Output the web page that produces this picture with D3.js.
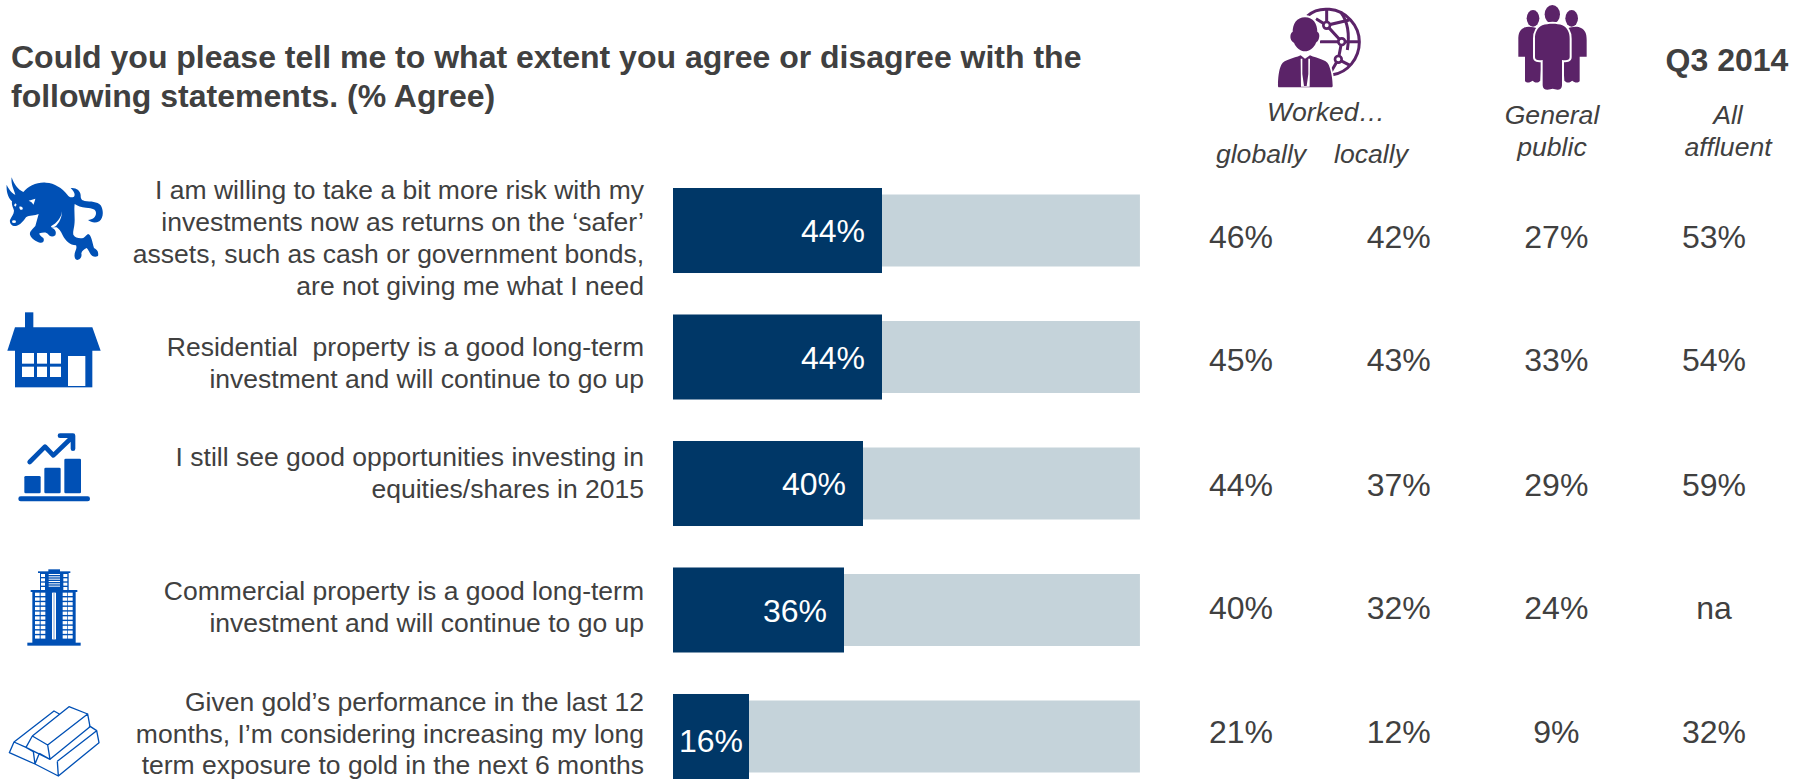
<!DOCTYPE html>
<html>
<head>
<meta charset="utf-8">
<style>
html, body { margin: 0; padding: 0; background: #fff; overflow: hidden; }
svg { display: block; }
text { font-family: "Liberation Sans", Arial, sans-serif; }
.halo { paint-order: stroke; }
</style>
<script src="https://cdnjs.cloudflare.com/ajax/libs/d3/7.8.5/d3.min.js"></script>
</head>
<body>
<svg id="chart" width="1808" height="779"></svg>
<script>
// ---- Survey content ----
const titleLines = [
  "Could you please tell me to what extent you agree or disagree with the",
  "following statements. (% Agree)"
];
const statements = [
  ["I am willing to take a bit more risk with my", "investments now as returns on the ‘safer’", "assets, such as cash or government bonds,", "are not giving me what I need"],
  ["Residential  property is a good long-term", "investment and will continue to go up"],
  ["I still see good opportunities investing in", "equities/shares in 2015"],
  ["Commercial property is a good long-term", "investment and will continue to go up"],
  ["Given gold’s performance in the last 12", "months, I’m considering increasing my long", "term exposure to gold in the next 6 months"]
];
const agreeValues = [44, 44, 40, 36, 16];
const trackValue = 98.3;
const workedGlobally = [46, 45, 44, 40, 21];
const workedLocally = [42, 43, 37, 32, 12];
const generalPublic = [27, 33, 29, 24, 9];
const allAffluent = [53, 54, 59, null, 32];
const columnKeys = ["globally", "locally", "public", "affluent"];
const columnValues = [workedGlobally, workedLocally, generalPublic, allAffluent];

// ---- Layout ----
const statementFirstBaseline = [198.5, 355.5, 465.5, 600, 711];
const statementLeading = [32, 32, 32, 32, 31.5];
const tableRowCentre = [237, 360, 485, 608, 732];
const barLabelShift = [0, 1, 0, 1, 5];

const INK = "#404040", NAVY = "#003767", TRACK = "#C5D3DA", BLUE = "#0050B5", PURPLE = "#5B2368";

const svg = d3.select("#chart");
const rows = d3.range(statements.length);

const x = d3.scaleLinear().domain([0, 100]).range([673, 1148]);
const y = d3.scaleBand().domain(rows).range([188, 779]).paddingInner(0.328).paddingOuter(0);
const col = d3.scalePoint().domain(columnKeys).range([1241, 1714]);
const TRACK_H = 72;

// Title
svg.append("g").selectAll("text").data(titleLines).join("text")
  .attr("x", 11).attr("y", (d, i) => 68 + i * 39)
  .attr("font-size", 32).attr("font-weight", "bold").attr("fill", INK)
  .text(d => d);

// Statement labels, right aligned beside the bars
const stmt = svg.append("g").selectAll("text").data(statements).join("text")
  .attr("text-anchor", "end").attr("font-size", 26.5).attr("fill", INK)
  .attr("xml:space", "preserve").style("white-space", "pre");
stmt.selectAll("tspan").data((d, i) => d.map((t, j) => ({ t, y: statementFirstBaseline[i] + j * statementLeading[i] })))
  .join("tspan").attr("x", 644).attr("y", d => d.y).text(d => d.t);

// Pale tracks behind the bars
svg.append("g").selectAll("rect").data(rows).join("rect")
  .attr("x", x(0)).attr("width", x(trackValue) - x(0))
  .attr("y", i => y(i) + (y.bandwidth() - TRACK_H) / 2).attr("height", TRACK_H)
  .attr("fill", TRACK);

// Agree bars
svg.append("g").selectAll("rect").data(agreeValues).join("rect")
  .attr("x", x(0)).attr("y", (d, i) => y(i))
  .attr("width", d => x(d) - x(0)).attr("height", y.bandwidth())
  .attr("fill", NAVY);

// Bar value labels; short bars keep the text inside their left edge
svg.append("g").selectAll("text").data(agreeValues).join("text")
  .attr("text-anchor", "end")
  .attr("x", d => Math.max(x(d) - 17, x(0) + 70))
  .attr("y", (d, i) => y(i) + y.bandwidth() / 2 + barLabelShift[i] + 11)
  .attr("font-size", 32).attr("fill", "#fff")
  .text(d => d + "%");

// Comparison columns
columnKeys.forEach((key, c) => {
  svg.append("g").selectAll("text").data(columnValues[c]).join("text")
    .attr("text-anchor", "middle")
    .attr("x", col(key))
    .attr("y", (d, i) => tableRowCentre[i] + 11)
    .attr("font-size", 32).attr("fill", INK)
    .text(d => d == null ? "na" : d + "%");
});

// Column headings
const headings = [
  ["Worked…", 1326, 121, 26.6],
  ["globally", 1261, 163, 26.6],
  ["locally", 1371, 163, 26.6],
  ["General", 1552, 124, 26.6],
  ["public", 1552, 156, 26.6],
  ["All", 1728, 124, 26.6],
  ["affluent", 1728, 156, 26.6]
];
svg.append("g").selectAll("text").data(headings).join("text")
  .attr("text-anchor", "middle").attr("font-style", "italic").attr("fill", INK)
  .attr("x", d => d[1]).attr("y", d => d[2]).attr("font-size", d => d[3])
  .text(d => d[0]);
svg.append("text").attr("x", 1727).attr("y", 71).attr("text-anchor", "middle")
  .attr("font-size", 32).attr("font-weight", "bold").attr("fill", INK).text("Q3 2014");

// ---- Pictograms, each authored at 3 units per screen pixel ----
function icon(tx, ty, colour) {
  return svg.append("g").attr("transform", `translate(${tx},${ty}) scale(${1 / 3})`).attr("fill", colour);
}

// Bull
const bull = icon(0, 170, BLUE);
bull.append("path").attr("d", "M35 22 C42 42 52 58 70 66 C78 58 84 52 96 46 C110 39 124 37 138 38 C164 39 186 54 202 74 C208 82 214 84 222 80 C226 74 224 66 212 54 C228 52 242 62 242 76 C242 86 244 91 254 93 C272 95 292 94 302 106 C312 122 310 146 298 154 C286 160 274 158 264 150 C278 149 288 142 288 129 C288 117 278 115 258 113 C244 112 232 108 224 102 C222 116 224 132 224 150 C224 172 218 184 220 194 C226 204 238 206 250 204 C256 200 258 196 264 192 C274 194 276 214 282 234 C290 238 297 244 294 258 C284 264 274 258 270 250 C266 242 264 238 260 234 C252 238 246 242 244 250 C246 258 244 268 232 270 C222 268 222 254 226 244 C230 234 230 230 228 226 C210 226 196 212 188 196 C182 182 176 176 170 172 C162 172 158 172 154 173 C166 176 170 186 166 196 C158 202 148 200 144 192 C140 186 130 186 118 190 C118 196 124 200 130 204 C134 212 130 220 120 218 C108 214 94 206 90 194 C88 184 98 178 106 168 C110 156 112 144 116 132 C104 138 88 134 78 142 C70 154 60 166 48 168 C36 170 28 160 30 150 C34 140 42 132 42 122 C40 112 34 106 36 94 C26 86 18 68 20 44 C26 58 36 70 46 74 C42 58 32 44 35 22 Z");
bull.append("path").attr("fill", "#fff").attr("d", "M186 124 C184 144 170 160 154 168 C150 172 160 174 168 168 C178 158 186 142 186 124 Z");
bull.append("path").attr("fill", "#fff").attr("d", "M86 92 L106 86 C104 94 102 100 100 104 C98 98 92 94 86 92 Z");
bull.append("path").attr("fill", "#fff").attr("d", "M58 110 C64 108 70 112 68 118 C62 122 58 118 58 110 Z");
bull.append("path").attr("fill", "#fff").attr("d", "M42 106 L46 100 L50 104 L46 110 Z");
bull.append("ellipse").attr("cx", 42).attr("cy", 155).attr("rx", 6).attr("ry", 4).attr("fill", "#fff");

// House
const house = icon(0, 160, BLUE);
house.append("rect").attr("x", 75).attr("y", 457).attr("width", 25).attr("height", 48);
house.append("path").attr("d", "M45 502 H277 L302 572 H22 Z");
house.append("rect").attr("x", 45).attr("y", 570).attr("width", 232).attr("height", 112);
[[66, 36], [111, 30], [150, 33]].forEach(([wx, ww]) => {
  [[579, 32], [620, 31]].forEach(([wy, wh]) => {
    house.append("rect").attr("x", wx).attr("y", wy).attr("width", ww).attr("height", wh).attr("fill", "#fff");
  });
});
house.append("rect").attr("x", 204).attr("y", 588).attr("width", 52).attr("height", 90).attr("fill", "#fff");

// Rising chart
const growth = icon(0, 420, BLUE);
growth.append("rect").attr("x", 73).attr("y", 168).attr("width", 49).attr("height", 52).attr("rx", 4);
growth.append("rect").attr("x", 133).attr("y", 143).attr("width", 49).attr("height", 77).attr("rx", 4);
growth.append("rect").attr("x", 193).attr("y", 116).attr("width", 50).attr("height", 104).attr("rx", 4);
growth.append("rect").attr("x", 55).attr("y", 229).attr("width", 215).attr("height", 15).attr("rx", 7);
growth.append("path").attr("fill", "none").attr("stroke", BLUE).attr("stroke-width", 14)
  .attr("stroke-linecap", "round").attr("stroke-linejoin", "round")
  .attr("d", "M89 126 L135 80 L160 106 L214 54 M180 47 H219 V86");

// Tower
const tower = icon(0, 420, BLUE);
tower.append("rect").attr("x", 145).attr("y", 448).attr("width", 35).attr("height", 12);
tower.append("rect").attr("x", 114).attr("y", 454).attr("width", 97).attr("height", 5);
tower.append("rect").attr("x", 120).attr("y", 456).attr("width", 86).attr("height", 58);
tower.append("rect").attr("x", 92).attr("y", 510).attr("width", 140).attr("height", 6);
tower.append("rect").attr("x", 97).attr("y", 512).attr("width", 130).attr("height", 158);
tower.append("rect").attr("x", 82).attr("y", 668).attr("width", 160).attr("height", 9);
[105, 122, 188, 204].forEach(wx => {
  d3.range(518, 656, 14.2).forEach(wy => {
    tower.append("rect").attr("x", wx).attr("y", wy).attr("width", 14).attr("height", 10).attr("fill", "#fff");
  });
});
[123, 190].forEach(wx => {
  d3.range(462, 505, 13).forEach(wy => {
    tower.append("rect").attr("x", wx).attr("y", wy).attr("width", 12).attr("height", 9).attr("fill", "#fff");
  });
});
d3.range(462, 504, 7).forEach(wy => {
  tower.append("rect").attr("x", 146).attr("y", wy).attr("width", 34).attr("height", 3).attr("fill", "#fff");
});
tower.append("rect").attr("x", 156).attr("y", 518).attr("width", 12).attr("height", 140).attr("fill", "#fff");
tower.append("rect").attr("x", 160).attr("y", 518).attr("width", 4).attr("height", 140).attr("fill", "#9db8e0");

// Gold bars
const gold = icon(0, 420, "none");
gold.append("path").attr("stroke", BLUE).attr("stroke-width", 4).attr("stroke-linejoin", "round")
  .attr("d", "M78 982 L97 948 L143 975 L150 1018 Z M143 975 L263 882 L270 920 L150 1018 M97 948 L207 860 L263 882 M178 882 L162 873 L42 966 L28 998 L105 1032 L100 995 L78 982 M42 966 L78 982 M105 1032 L118 1000 M105 1032 L175 1068 L297 968 L290 932 L267 917 M172 1024 L175 1068 M172 1024 L290 932 M118 1000 L150 1018");

// Executive in front of a globe
const worker = icon(1270, 0, PURPLE);
worker.append("g").attr("fill", "none").attr("stroke", PURPLE).attr("stroke-width", 9)
  .selectAll("path").data([
    "M112 48 C132 30 158 26 178 28 C228 32 268 76 268 126 C268 176 232 218 188 224",
    "M138 56 L170 76 L238 60",
    "M170 30 L170 76 L215 125 L205 178 L184 214",
    "M150 125 H266",
    "M205 178 L240 196",
    "M212 36 C230 60 240 100 232 150"
  ]).join("path").attr("d", d => d);
[[170, 76], [215, 125], [205, 178]].forEach(([cx, cy]) => {
  worker.append("circle").attr("cx", cx).attr("cy", cy).attr("r", 10)
    .attr("fill", "#fff").attr("stroke", PURPLE).attr("stroke-width", 8);
});
worker.append("path").attr("class", "halo").attr("stroke", "#fff").attr("stroke-width", 12)
  .attr("d", "M105 52 C130 52 142 72 142 96 C148 98 150 108 146 118 C144 124 140 126 138 128 C132 144 118 154 105 154 C92 154 78 144 72 128 C68 126 64 122 62 116 C60 108 62 98 68 96 C68 72 80 52 105 52 Z");
worker.append("path").attr("class", "halo").attr("stroke", "#fff").attr("stroke-width", 10)
  .attr("d", "M24 258 C24 236 26 210 34 194 C44 178 70 176 92 166 L105 176 L120 166 C142 176 168 178 176 194 C184 212 188 240 188 258 C188 262 184 262 180 262 H30 C26 262 24 262 24 258 Z");
worker.append("path").attr("fill", "#fff").attr("d", "M92 176 L97 176 L97 222 L102 258 L110 258 L115 222 L115 176 L120 176 L119 260 H93 Z");

// Group of three people
const people = icon(1505, 0, PURPLE);
people.append("ellipse").attr("cx", 84).attr("cy", 55).attr("rx", 19).attr("ry", 25);
people.append("ellipse").attr("cx", 200).attr("cy", 55).attr("rx", 19).attr("ry", 25);
people.append("path").attr("d", "M56 84 C66 78 84 80 98 86 L110 176 L106 242 C96 252 88 246 82 242 C76 248 66 250 60 244 L60 170 H40 V120 C40 100 44 90 56 84 Z");
people.append("path").attr("d", "M228 84 C218 78 200 80 186 86 L174 176 L178 242 C188 252 196 246 202 242 C208 248 218 250 224 244 L224 170 H245 V120 C245 100 240 90 228 84 Z");
people.append("ellipse").attr("cx", 142).attr("cy", 43).attr("rx", 23).attr("ry", 28);
people.append("path").attr("class", "halo").attr("stroke", "#fff").attr("stroke-width", 12)
  .attr("d", "M112 76 C130 70 156 70 172 76 C188 84 194 98 194 116 V172 C194 180 186 182 171 180 V256 C171 268 160 272 150 268 C146 266 140 266 136 268 C124 272 113 268 113 256 V180 C98 182 90 180 90 172 V116 C90 98 96 84 112 76 Z");
</script>
</body>
</html>
